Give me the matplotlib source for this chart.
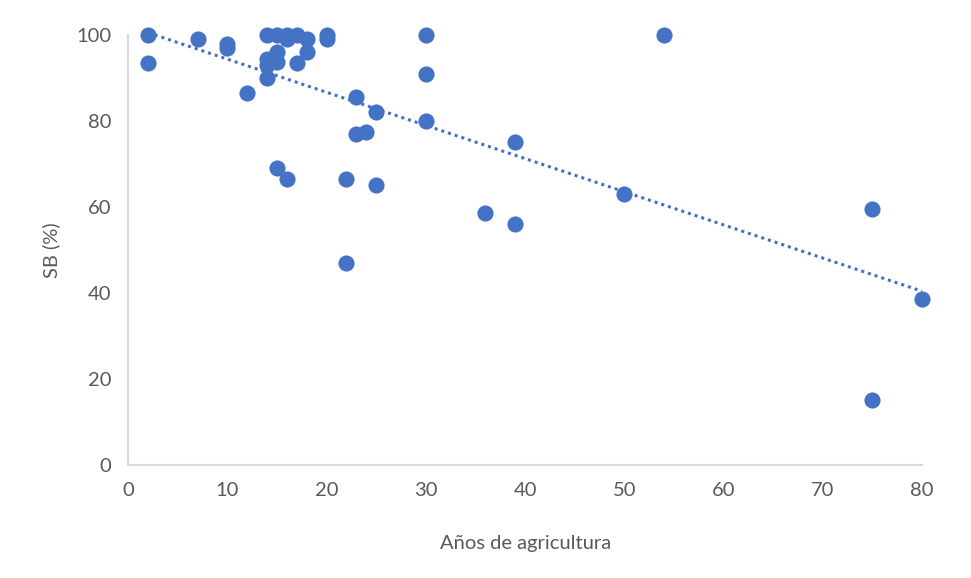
import numpy as np
import matplotlib.pyplot as plt

plt.rcParams['font.family'] = ['Lato', 'DejaVu Sans']

# years of agriculture vs SB (%)
anos = [2, 2, 7, 10, 10, 12, 14, 15, 16, 17, 16, 18, 20, 20,
        15, 18, 14, 15, 14, 17, 14, 23, 25, 23, 24, 15, 16, 22, 25, 22,
        30, 30, 30, 36, 39, 39, 50, 54, 75, 75, 80]
sb = [100, 93.5, 99, 98, 97, 86.5, 100, 100, 100, 100, 99, 99, 100, 99,
      96, 96, 94.5, 93.7, 93, 93.5, 90, 85.5, 82, 77, 77.5, 69, 66.5, 66.5, 65, 47,
      100, 91, 80, 58.5, 56, 75, 63, 100, 59.5, 15, 38.5]

blue = '#4472C4'
grey = '#595959'

fig = plt.figure(figsize=(9.71, 5.78), dpi=100)
ax = fig.add_axes([0.132, 0.1955, 0.8175, 0.744])

ax.scatter(anos, sb, s=135, color=blue, zorder=3, clip_on=False, linewidths=0)

# linear trendline
m, b = np.polyfit(anos, sb, 1)
xt = np.array([2, 80])
ax.plot(xt, m * xt + b, color=blue, lw=2.2, linestyle=(0, (1, 1.3)), zorder=2, clip_on=False)

ax.set_xlim(0, 80)
ax.set_ylim(0, 100)
ax.set_xticks(range(0, 81, 10))
ax.set_yticks(range(0, 101, 20))
ax.tick_params(length=0, labelsize=14.5, labelcolor=grey, pad=12)
for s in ['top', 'right']:
    ax.spines[s].set_visible(False)
for s in ['left', 'bottom']:
    ax.spines[s].set_color('#D9D9D9')
    ax.spines[s].set_linewidth(1.5)

ax.set_xlabel('Años de agricultura', fontsize=14.5, color=grey, labelpad=26)
ax.set_ylabel('SB (%)', fontsize=14.5, color=grey, labelpad=12)

plt.savefig('out.png', dpi=100)
